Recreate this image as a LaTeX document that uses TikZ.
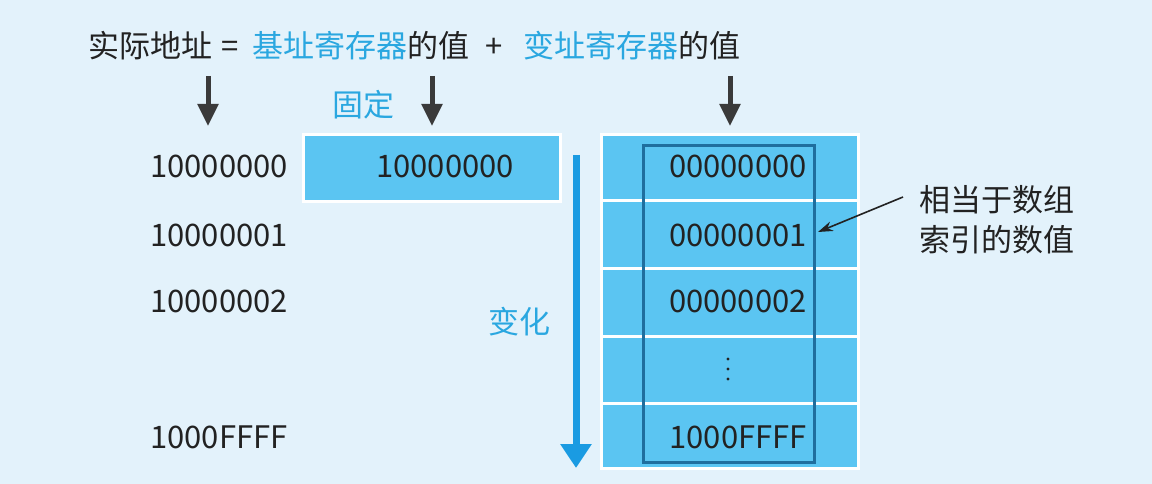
\documentclass[tikz,border=0pt]{standalone}
\usepackage{fontspec}
\setmainfont{Noto Sans CJK SC}
\usetikzlibrary{arrows.meta}
\definecolor{bgblue}{HTML}{E3F2FB}
\definecolor{cellblue}{HTML}{5BC5F2}
\definecolor{labelblue}{HTML}{2AA7E0}
\definecolor{flowblue}{HTML}{1A9BE2}
\definecolor{frameblue}{HTML}{1F6E9E}
\definecolor{ink}{HTML}{222222}
\definecolor{pointer}{HTML}{3A3A3A}
\tikzset{
  txt/.style={inner sep=0pt, font=\fontsize{31}{35}\selectfont, text=ink},
  bluetxt/.style={txt, text=labelblue},
  cell/.style={fill=cellblue, draw=white, line width=3pt},
  downarrow/.style={draw=pointer, line width=5pt, -{Triangle[length=22pt,width=20pt]}},
  flowarrow/.style={draw=flowblue, line width=7pt, -{Triangle[length=24pt,width=30pt]}},
  dot/.style={circle, fill=ink, inner sep=0pt, minimum size=3.2pt},
}
\begin{document}
\begin{tikzpicture}[x=1pt,y=-1pt]
  \fill[bgblue] (0,0) rectangle (1152,484);
  \useasboundingbox (0,0) rectangle (1152,484);

  % formula line
  \node[txt, anchor=base west] (real) at (88,58) {实际地址};
  \node[txt, anchor=base] (eq) at (230,58) {=};
  \node[bluetxt, anchor=base west] (base) at (252,58) {基址寄存器};
  \node[txt, anchor=base west] (bval) at (base.base east) {的值};
  \node[txt, anchor=base] (plus) at (494,58) {+};
  \node[bluetxt, anchor=base west] (idx) at (523,58) {变址寄存器};
  \node[txt, anchor=base west] (ival) at (idx.base east) {的值};

  % pointers from the formula down
  \coordinate (p1s) at (208,76);  \coordinate (p1e) at (208,126);
  \coordinate (p2s) at (432,76);  \coordinate (p2e) at (432,126);
  \coordinate (p3s) at (730,76);  \coordinate (p3e) at (730,126);
  \draw[downarrow] (p1s) -- (p1e);
  \draw[downarrow] (p2s) -- (p2e);
  \draw[downarrow] (p3s) -- (p3e);
  \node[bluetxt] (fixed) at (363,105) {固定};

  % actual addresses
  \node[txt, anchor=west] (a0) at (150,166) {10000000};
  \node[txt, anchor=west] (a1) at (150,235) {10000001};
  \node[txt, anchor=west] (a2) at (150,301) {10000002};
  \node[txt, anchor=west] (a3) at (150,437) {1000FFFF};

  % base register
  \draw[cell] (303,135) rectangle (560,202);
  \node[txt] (bv) at (445,166) {10000000};

  % index register cells
  \draw[cell] (601,135) rectangle (858,201);
  \draw[cell] (601,201) rectangle (858,268);
  \draw[cell] (601,268) rectangle (858,336);
  \draw[cell] (601,336) rectangle (858,403);
  \draw[cell] (601,403) rectangle (858,468);
  \draw[frameblue, line width=3pt] (643,146) rectangle (814,462);
  \node[txt, anchor=east] (i0) at (807,166) {00000000};
  \node[txt, anchor=east] (i1) at (807,235) {00000001};
  \node[txt, anchor=east] (i2) at (807,301) {00000002};
  \node[dot] (d1) at (728,359) {};
  \node[dot] (d2) at (728,369) {};
  \node[dot] (d3) at (728,379) {};
  \node[txt, anchor=east] (i4) at (807,437) {1000FFFF};

  % varying index
  \coordinate (fs) at (576,155);
  \coordinate (fe) at (576,468);
  \draw[flowarrow] (fs) -- (fe);
  \node[bluetxt] (vary) at (519,322) {变化};

  % annotation
  \node[txt, anchor=west] (note1) at (919,200) {相当于数组};
  \node[txt, anchor=west] (note2) at (919,240) {索引的数值};
  \coordinate (nptr) at (903,197);
  \coordinate (ntip) at (818,232);
  \draw[ink, line width=1.6pt, -{Stealth[length=15pt,width=10pt]}] (nptr) -- (ntip);
\end{tikzpicture}
\end{document}
